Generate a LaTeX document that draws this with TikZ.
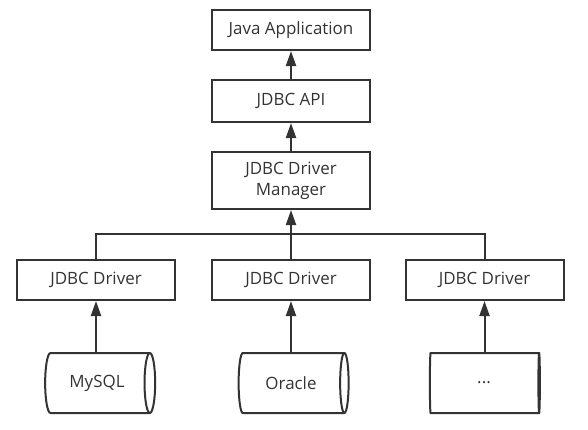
\documentclass[tikz,border=0pt]{standalone}
\usepackage{fontspec}
\setmainfont{Open Sans}
\usetikzlibrary{shapes.geometric,arrows.meta}
\definecolor{trait}{HTML}{333333}

\begin{document}
\begin{tikzpicture}[x=1bp,y=1bp]
    \tikzset{BoxStyle/.style =   {draw=trait,line width=2bp,text=trait,font=\fontsize{17}{21}\selectfont,minimum width=158bp,minimum height=#1,inner sep=0pt,align=center}}
    \tikzset{BaseStyle/.style =   {draw=trait,line width=2bp,text=trait,font=\fontsize{17}{21}\selectfont,cylinder,aspect=0.65,minimum width=60bp,minimum height=110bp,inner sep=0pt}}
    \tikzset{FlecheStyle/.style =   {draw=trait,line width=2bp,-{Triangle[width=10bp,length=15bp]}}}

    \useasboundingbox (0,0) rectangle (588,429);

    % couches du haut
    \node[BoxStyle=40bp] (app) at (291,399) {Java Application};
    \node[BoxStyle=42bp] (api) at (291,328) {JDBC API};
    \node[BoxStyle=57bp] (mgr) at (291,248.5) {JDBC Driver\\Manager};

    % pilotes
    \node[BoxStyle=40bp] (drvL) at (96,149) {JDBC Driver};
    \node[BoxStyle=40bp] (drvM) at (291,149) {JDBC Driver};
    \node[BoxStyle=40bp] (drvR) at (484.5,149) {JDBC Driver};
    \coordinate (bus) at (291,195);

    % bases
    \node[BaseStyle] (dbL) at (97,46) {MySQL};
    \node[BaseStyle] (dbM) at (291,46) {Oracle};
    \node[BaseStyle] (dbR) at (484,46) {...};

    \draw[FlecheStyle] (api.north) -- (app.south);
    \draw[FlecheStyle] (mgr.north) -- (api.south);
    \draw[FlecheStyle] (drvM.north) -- (mgr.south);
    \draw[draw=trait,line width=2bp] (drvL.north) |- (bus) -| (drvR.north);
    \draw[FlecheStyle] (drvL.south |- dbL.north) -- (drvL.south);
    \draw[FlecheStyle] (drvM.south |- dbM.north) -- (drvM.south);
    \draw[FlecheStyle] (drvR.south |- dbR.north) -- (drvR.south);
\end{tikzpicture}
\end{document}
